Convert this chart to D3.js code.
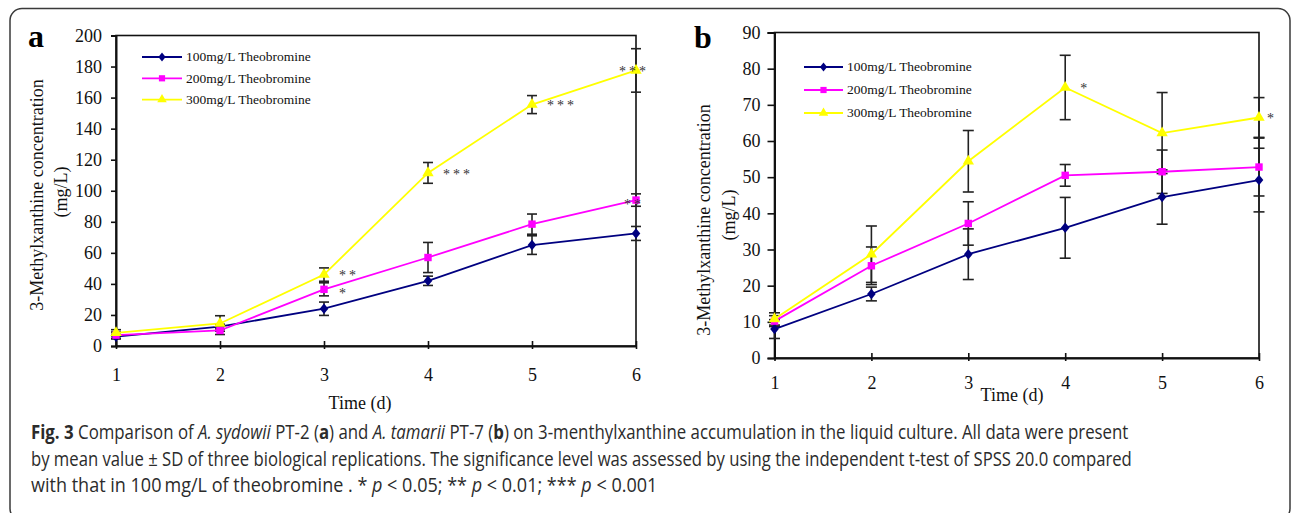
<!DOCTYPE html>
<html>
<head>
<meta charset="utf-8">
<script src="https://cdn.jsdelivr.net/npm/d3@7"></script>
<style>
  body { margin: 0; background: #fff; }
  svg { display: block; }
</style>
</head>
<body>
<script>
// ---- data ----
const days = [1, 2, 3, 4, 5, 6];
const seriesNames = ["100mg/L Theobromine", "200mg/L Theobromine", "300mg/L Theobromine"];

// panel a: A. sydowii PT-2
const aMean100 = [6, 12.5, 24, 42, 65, 72.5];
const aSd100   = [1.5, 1.5, 4.3, 3, 6, 4.5];
const aMean200 = [7, 10, 36.5, 57, 78.5, 94];
const aSd200   = [2, 2.6, 4.2, 9.7, 6.5, 4];
const aMean300 = [8.5, 14.5, 46, 111.5, 155.5, 177.5];
const aSd300   = [2, 5, 4.3, 6.7, 5.8, 14];
const aSig100  = ["", "", "", "", "", ""];
const aSig200  = ["", "", "*", "", "", "**"];
const aSig300  = ["", "", "**", "***", "***", "***"];
const aYTicks  = [0, 20, 40, 60, 80, 100, 120, 140, 160, 180, 200];

// panel b: A. tamarii PT-7
const bMean100 = [8, 17.7, 28.7, 36, 44.5, 49.2];
const bSd100   = [2.6, 1.9, 7, 8.4, 7.5, 8.8];
const bMean200 = [10.2, 25.5, 37.2, 50.5, 51.5, 52.8];
const bSd200   = [1.5, 5.2, 6, 3, 6, 8];
const bMean300 = [10.8, 28.7, 54.4, 74.8, 62.2, 66.5];
const bSd300   = [1.7, 7.8, 8.5, 8.9, 11.2, 5.5];
const bSig100  = ["", "", "", "", "", ""];
const bSig200  = ["", "", "", "", "", ""];
const bSig300  = ["", "", "", "*", "", "*"];
const bYTicks  = [0, 10, 20, 30, 40, 50, 60, 70, 80, 90];

const yTitle = "3-Methylxanthine concentration";
const yUnit = "(mg/L)";
const xTitle = "Time (d)";

const captionLines = [
  [["Fig. 3", "b"], [" Comparison of "], ["A. sydowii", "i"], [" PT-2 ("], ["a", "b"], [") and "],
   ["A. tamarii", "i"], [" PT-7 ("], ["b", "b"],
   [") on 3-menthylxanthine accumulation in the liquid culture. All data were present"]],
  [["by mean value \u00b1 SD of three biological replications. The significance level was assessed by using the independent t-test of SPSS 20.0 compared"]],
  [["with that in 100\u2009mg/L of theobromine . * "], ["p", "i"], [" < 0.05; ** "], ["p", "i"],
   [" < 0.01; *** "], ["p", "i"], [" < 0.001"]]
];

// ---- look ----
const colors = ["#000080", "#ff00ff", "#ffff00"];
const serif = "'Liberation Serif', 'Times New Roman', serif";
const sans = "'Open Sans', 'Noto Sans', sans-serif";

const diamond = {
  draw(ctx, size) {
    const h = Math.sqrt(size) * 0.62, w = h * 0.82;
    ctx.moveTo(0, -h); ctx.lineTo(w, 0); ctx.lineTo(0, h); ctx.lineTo(-w, 0); ctx.closePath();
  }
};
const symbols = [diamond, d3.symbolSquare, d3.symbolTriangle];
const symSizes = [72, 55, 56];
// small vertical nudge of the star labels per series, so stacked ones stay apart
const sigNudge = [0, 1, -2];

const width = 1292, height = 513;
const svg = d3.select("body").append("svg")
  .attr("width", width)
  .attr("height", height);

// outer rounded frame
svg.append("rect")
  .attr("x", 10).attr("y", 8.5)
  .attr("width", 1280).attr("height", 512)
  .attr("rx", 12)
  .attr("fill", "none")
  .attr("stroke", "#3a3a3a")
  .attr("stroke-width", 1.5);

const drawPanel = (p) => {
  const g = svg.append("g");
  const x = d3.scaleLinear().domain([1, 6]).range([p.left, p.right]);
  const y = d3.scaleLinear().domain([0, p.yMax]).range([p.bottom, p.top]);

  // plot box
  g.append("rect")
    .attr("x", p.left).attr("y", p.top)
    .attr("width", p.right - p.left).attr("height", p.bottom - p.top)
    .attr("fill", "none").attr("stroke", "#111").attr("stroke-width", 1.6);

  const yAxis = g.append("g")
    .attr("transform", `translate(${p.left},0)`)
    .call(d3.axisLeft(y).tickValues(p.yTicks).tickSize(p.yTick).tickPadding(p.yPad).tickFormat(d3.format("d")));
  yAxis.select(".domain").attr("stroke", "#111").attr("stroke-width", 2);
  yAxis.selectAll(".tick line").attr("stroke", "#111").attr("stroke-width", 1.6);
  yAxis.selectAll(".tick text").attr("fill", "#111").style("font", `18px ${serif}`);

  const xAxis = g.append("g")
    .attr("transform", `translate(0,${p.bottom})`)
    .call(d3.axisBottom(x).tickValues(days).tickSize(0).tickPadding(p.xPad).tickFormat(d3.format("d")));
  xAxis.select(".domain").attr("stroke", "#111").attr("stroke-width", 2);
  xAxis.selectAll(".tick line").attr("y1", -5).attr("y2", 3).attr("stroke", "#111").attr("stroke-width", 1.6);
  xAxis.selectAll(".tick text").attr("fill", "#111").style("font", `18px ${serif}`);

  // titles
  g.append("text")
    .attr("transform", `translate(${p.titleX},${p.titleY}) rotate(-90)`)
    .attr("text-anchor", "middle")
    .attr("fill", "#111")
    .style("font", `18px ${serif}`)
    .text(yTitle);
  g.append("text")
    .attr("transform", `translate(${p.unitX},${p.unitY}) rotate(-90)`)
    .attr("text-anchor", "middle")
    .attr("fill", "#111")
    .style("font", `18px ${serif}`)
    .text(yUnit);
  g.append("text")
    .attr("x", p.xTitleX).attr("y", p.xTitleY)
    .attr("text-anchor", "middle")
    .attr("fill", "#111")
    .style("font", `18px ${serif}`)
    .text(xTitle);

  g.append("text")
    .attr("x", p.labelX).attr("y", p.labelY)
    .attr("fill", "#000")
    .style("font", `bold 32px ${serif}`)
    .text(p.label);

  const line = d3.line().x((d, i) => x(days[i])).y(d => y(d));

  // error bars
  p.series.forEach(s => {
    const eb = g.append("g").attr("stroke", "#222").attr("stroke-width", 1.6);
    s.mean.forEach((m, i) => {
      const cx = x(days[i]), top = y(m + s.sd[i]), bot = y(m - s.sd[i]);
      eb.append("line").attr("x1", cx).attr("x2", cx).attr("y1", top).attr("y2", bot);
      eb.append("line").attr("x1", cx - p.cap).attr("x2", cx + p.cap).attr("y1", top).attr("y2", top);
      eb.append("line").attr("x1", cx - p.cap).attr("x2", cx + p.cap).attr("y1", bot).attr("y2", bot);
    });
  });

  // lines and markers
  p.series.forEach((s, k) => {
    g.append("path")
      .datum(s.mean)
      .attr("fill", "none")
      .attr("stroke", colors[k])
      .attr("stroke-width", 1.8)
      .attr("d", line);
    g.append("g").selectAll("path")
      .data(s.mean)
      .join("path")
      .attr("transform", (d, i) => `translate(${x(days[i])},${y(d)})`)
      .attr("fill", colors[k])
      .attr("d", d3.symbol().type(symbols[k]).size(symSizes[k]));
  });

  // significance stars
  p.series.forEach((s, k) => {
    s.sig.forEach((t, i) => {
      if (!t) return;
      const last = i === days.length - 1;
      const place = last ? p.sigLast : p.sigNext;
      g.append("text")
        .attr("x", x(days[i]) + place.dx)
        .attr("y", y(s.mean[i]) + sigNudge[k])
        .attr("dy", "0.55em")
        .attr("text-anchor", place.anchor)
        .attr("fill", "#333")
        .style("font", `14px ${serif}`)
        .style("letter-spacing", "3px")
        .text(t);
    });
  });

  // legend
  const lg = g.append("g");
  seriesNames.forEach((name, k) => {
    const ly = p.legY + k * p.legStep;
    lg.append("line")
      .attr("x1", p.legX).attr("x2", p.legX + p.legW)
      .attr("y1", ly).attr("y2", ly)
      .attr("stroke", colors[k]).attr("stroke-width", 1.8);
    lg.append("path")
      .attr("transform", `translate(${p.legX + p.legW / 2},${ly})`)
      .attr("fill", colors[k])
      .attr("d", d3.symbol().type(symbols[k]).size(symSizes[k] * 0.7));
    lg.append("text")
      .attr("x", p.legX + p.legW + 4).attr("y", ly)
      .attr("dy", "0.33em")
      .attr("fill", "#111")
      .style("font", `13.5px ${serif}`)
      .text(name);
  });
};

drawPanel({
  label: "a", labelX: 28, labelY: 47,
  left: 116, right: 636, top: 35.5, bottom: 346, yMax: 200, yTicks: aYTicks,
  yTick: 5, yPad: 9, xPad: 22, cap: 5,
  titleX: 43, titleY: 195, unitX: 67, unitY: 192,
  xTitleX: 360, xTitleY: 409,
  legX: 142, legY: 57, legStep: 21.3, legW: 40,
  sigNext: { anchor: "start", dx: 15 }, sigLast: { anchor: "middle", dx: -2 },
  series: [
    { mean: aMean100, sd: aSd100, sig: aSig100 },
    { mean: aMean200, sd: aSd200, sig: aSig200 },
    { mean: aMean300, sd: aSd300, sig: aSig300 }
  ]
});

drawPanel({
  label: "b", labelX: 694, labelY: 48,
  left: 774.5, right: 1259, top: 32.5, bottom: 358, yMax: 90, yTicks: bYTicks,
  yTick: 7, yPad: 7, xPad: 18, cap: 5.5,
  titleX: 710, titleY: 220, unitX: 735, unitY: 215,
  xTitleX: 1012, xTitleY: 401,
  legX: 804, legY: 67, legStep: 23, legW: 39,
  sigNext: { anchor: "start", dx: 15 }, sigLast: { anchor: "start", dx: 8 },
  series: [
    { mean: bMean100, sd: bSd100, sig: bSig100 },
    { mean: bMean200, sd: bSd200, sig: bSig200 },
    { mean: bMean300, sd: bSd300, sig: bSig300 }
  ]
});

// caption, each line squeezed to the width it has in the figure
const capX = 31, capY = [439, 466, 492], capEnd = [1129, 1133, 658];
captionLines.forEach((parts, li) => {
  const t = svg.append("text")
    .attr("fill", "#2b2b2b")
    .style("font", `19.5px ${sans}`);
  parts.forEach(([txt, st]) => {
    t.append("tspan")
      .attr("font-weight", st === "b" ? "bold" : null)
      .attr("font-style", st === "i" ? "italic" : null)
      .text(txt);
  });
  const w = t.node().getComputedTextLength();
  const k = (capEnd[li] - capX) / w;
  t.attr("transform", `translate(${capX},${capY[li]}) scale(${k},1)`);
});
</script>
</body>
</html>
